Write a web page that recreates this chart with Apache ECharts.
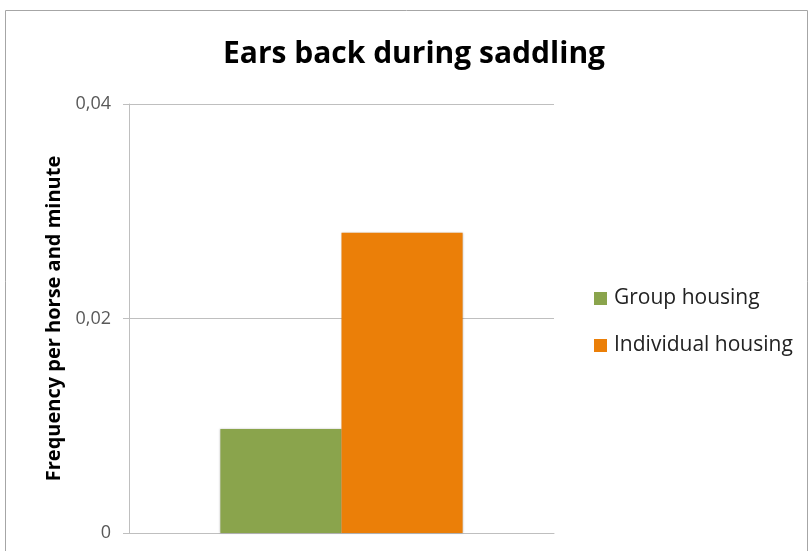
<!DOCTYPE html>
<html>
<head>
<meta charset="utf-8">
<script src="https://cdn.jsdelivr.net/npm/echarts@6/dist/echarts.min.js"></script>
<style>
  html, body { margin: 0; padding: 0; background: #fff; }
  #main { width: 811px; height: 551px; }
</style>
</head>
<body>
<div id="main"></div>
<script>
  // data
  var categories = ['Ears back during saddling']
  var groupHousing = [0.0097]
  var individualHousing = [0.028]
  var yTicks = [0, 0.02, 0.04]

  var chart = echarts.init(document.getElementById('main'))
  var grey = '#bfbfbf'

  chart.setOption({
    animation: false,
    backgroundColor: '#fff',
    graphic: [{
      type: 'rect',
      shape: { x: 5.5, y: 10.5, width: 802, height: 560 },
      style: { fill: 'none', stroke: '#a6a6a6', lineWidth: 1 },
      silent: true
    }],
    title: {
      text: 'Ears back during saddling',
      left: 409, top: 34, textAlign: 'center',
      textStyle: { fontFamily: 'Open Sans', fontWeight: 'bold', fontSize: 30, color: '#000' }
    },
    legend: {
      orient: 'vertical',
      left: 594, top: 288, padding: 0,
      itemWidth: 13, itemHeight: 13, itemGap: 26,
      icon: 'rect',
      textStyle: { fontFamily: 'Open Sans', fontSize: 21, color: '#222', padding: [0, 0, 0, 2] },
      data: ['Group housing', 'Individual housing']
    },
    grid: { left: 129, right: 257, top: 104, bottom: 18 },
    xAxis: {
      type: 'category',
      data: categories,
      axisLine: { lineStyle: { color: grey } },
      axisTick: { show: false },
      axisLabel: { show: false }
    },
    yAxis: {
      type: 'value',
      min: yTicks[0], max: yTicks[yTicks.length - 1], interval: yTicks[1] - yTicks[0],
      name: 'Frequency per horse and minute',
      nameLocation: 'middle', nameGap: 62, nameRotate: 90,
      nameTextStyle: { fontFamily: 'Open Sans', fontWeight: 'bold', fontSize: 20, color: '#000' },
      axisLine: { show: true, lineStyle: { color: grey } },
      axisTick: { show: true, length: 6, lineStyle: { color: grey } },
      axisLabel: {
        margin: 18, fontFamily: 'Open Sans', fontSize: 18, color: '#595959',
        formatter: function (v) { return String(+v.toFixed(2)).replace('.', ',') }
      },
      splitLine: { lineStyle: { color: grey } }
    },
    series: [{
      name: 'Group housing',
      type: 'bar',
      data: groupHousing,
      barGap: '0%', barCategoryGap: '43%',
      itemStyle: { color: '#8aa44c', shadowColor: 'rgba(0,0,0,0.25)', shadowBlur: 2 }
    }, {
      name: 'Individual housing',
      type: 'bar',
      data: individualHousing,
      itemStyle: { color: '#eb7f08', shadowColor: 'rgba(0,0,0,0.25)', shadowBlur: 2 }
    }]
  })
</script>
</body>
</html>
